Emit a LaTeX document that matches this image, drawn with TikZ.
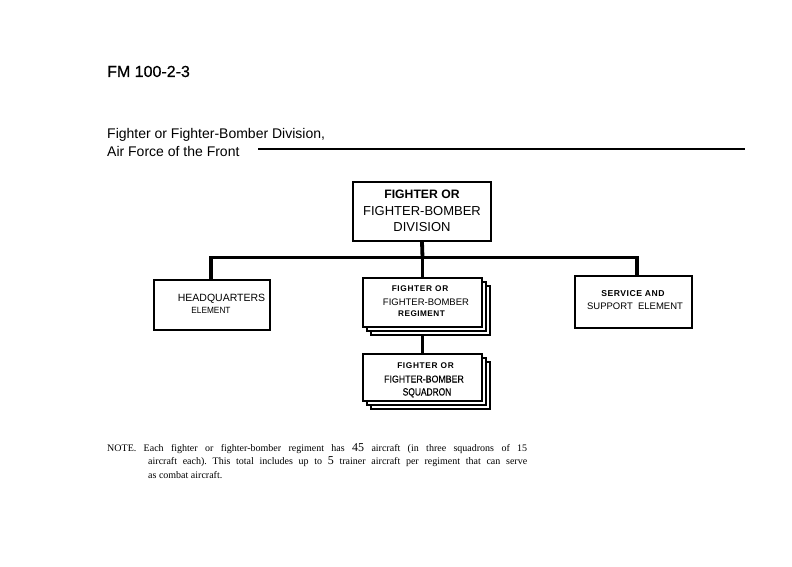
\documentclass[tikz,border=0pt]{standalone}
\usepackage{fontspec}
\usepackage{graphicx}
\setmainfont{Liberation Sans}
\newfontfamily\notefont{Liberation Serif}
\newfontfamily\fmfont[FakeBold=0.6]{Liberation Sans}
\usetikzlibrary{backgrounds}
\begin{document}
\begin{tikzpicture}[x=1pt,y=-1pt,
  box/.style={draw, line width=2.1pt, fill=white, inner sep=0pt, align=center},
  sbox/.style={draw, line width=1.6pt, fill=white, inner sep=0pt},
  bar/.style={line width=3.8pt},
  lbl/.style={inner sep=0pt, align=center},
]
\useasboundingbox (0,0) rectangle (792,567);
% heading
\node[anchor=base west, inner sep=0pt, font=\fmfont\fontsize{16}{18}\selectfont] (fm) at (107,77) {FM 100-2-3};
\node[anchor=base west, inner sep=0pt, font=\fontsize{14}{16}\selectfont] (t1) at (107,139) {Fighter or Fighter-Bomber Division,};
\node[anchor=base west, inner sep=0pt, font=\fontsize{14}{16}\selectfont] (t2) at (107,156) {Air Force of the Front};
\coordinate (ruleL) at (258,149);
\coordinate (ruleR) at (745,149);
\draw[line width=2.6pt] (ruleL) -- (ruleR);

% division
\node[box, minimum width=138pt, minimum height=59pt] (div) at (422,211.5) {};
\node[lbl, font=\fontsize{13}{16.5}\selectfont] (divt) at (422,211) {{\bfseries\fontsize{12.2}{16.5}\selectfont FIGHTER OR}\\FIGHTER-BOMBER\\DIVISION};

% headquarters
\node[box, minimum width=116pt, minimum height=50pt] (hq) at (212,305) {};
\node[anchor=base, inner sep=0pt, font=\fontsize{10.5}{12}\selectfont] (hqt1) at (221.5,301) {HEADQUARTERS};
\node[anchor=base, inner sep=0pt, font=\fontsize{9}{11}\selectfont] (hqt2) at (211,313) {\scalebox{0.92}[1]{ELEMENT}};

% service and support
\node[box, minimum width=117pt, minimum height=52pt] (svc) at (633.5,302) {};
\node[anchor=base, inner sep=0pt, font=\bfseries\fontsize{8.6}{10}\selectfont] (svct1) at (633,296.5) {\addfontfeature{LetterSpace=6}SERVICE AND};
\node[anchor=base, inner sep=0pt, font=\fontsize{9.5}{11}\selectfont] (svct2) at (635,309.5) {SUPPORT\ \ ELEMENT};

% regiment stack
\node[sbox, minimum width=119pt, minimum height=49pt] (reg3) at (430.5,310.5) {};
\node[sbox, minimum width=119pt, minimum height=49pt] (reg2) at (426.5,306.5) {};
\node[box, minimum width=119pt, minimum height=49pt] (reg) at (422.5,302.5) {};
\node[anchor=base, inner sep=0pt, font=\bfseries\fontsize{8.3}{10}\selectfont] (regt1) at (420,291) {\addfontfeature{LetterSpace=8}FIGHTER OR};
\node[anchor=base, inner sep=0pt, font=\fontsize{9.5}{11}\selectfont] (regt2) at (426,305.5) {FIGHTER-BOMBER};
\node[anchor=base, inner sep=0pt, font=\bfseries\fontsize{8.2}{10}\selectfont] (regt3) at (421.5,316.5) {\addfontfeature{LetterSpace=6}REGIMENT};

% squadron stack
\node[sbox, minimum width=119pt, minimum height=47pt] (sq3) at (430.5,385.5) {};
\node[sbox, minimum width=119pt, minimum height=47pt] (sq2) at (426.5,381.5) {};
\node[box, minimum width=119pt, minimum height=47pt] (sq) at (422.5,377.5) {};
\node[anchor=base, inner sep=0pt, font=\bfseries\fontsize{8.3}{10}\selectfont] (sqt1) at (425.5,368) {\addfontfeature{LetterSpace=8}FIGHTER OR};
\node[anchor=base, inner sep=0pt, font=\fontsize{10}{11}\selectfont] (sqt2) at (424,382.5) {\scalebox{0.88}[1]{\addfontfeature{FakeBold=0.3}FIGHTER-BOMBER}};
\node[anchor=base, inner sep=0pt, font=\fontsize{10.5}{11}\selectfont] (sqt3) at (427,395.5) {\scalebox{0.8}[1]{\addfontfeature{FakeBold=0.3}SQUADRON}};

% connectors
\coordinate (bl) at (211,257.5);
\coordinate (bm) at (422.5,257.5);
\coordinate (br) at (637,257.5);
\begin{scope}[on background layer]
\draw[bar] (div.south) -- (bm);
\draw[bar] (hq.north -| bl) -- (bl) -- (br) -- (svc.north -| br);
\draw[bar] (bm) -- (reg.north);
\draw[bar] (reg.south) -- (sq.north);
\end{scope}

% note
\node[anchor=north west, inner sep=0pt, font=\notefont\fontsize{10}{13.5}\selectfont] (note) at (107,443) {\parbox{420pt}{\frenchspacing\hangindent=41pt\hangafter=1 NOTE. Each fighter or fighter-bomber regiment has {\fontsize{12}{13}\selectfont 45} aircraft (in three squadrons of 15\linebreak aircraft each). This total includes up to {\fontsize{12}{13}\selectfont 5} trainer aircraft per regiment that can serve\linebreak as combat aircraft.}};
\end{tikzpicture}
\end{document}
